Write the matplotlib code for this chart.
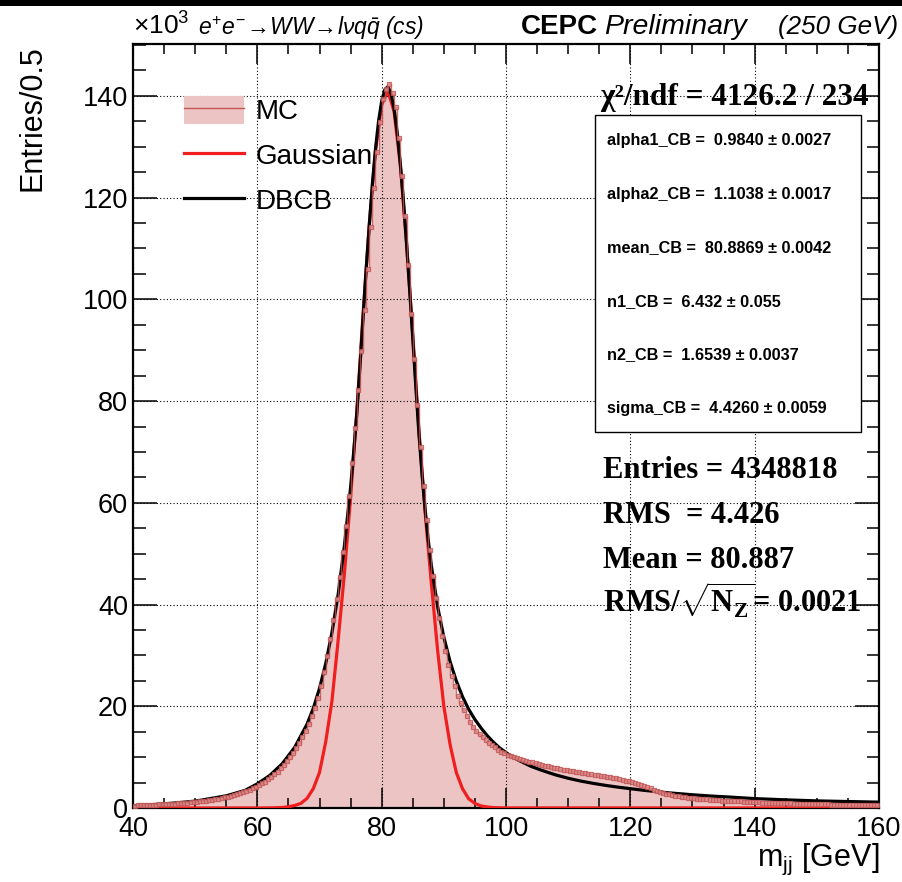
import numpy as np
import matplotlib.pyplot as plt
from matplotlib.patches import Rectangle, Patch
from matplotlib.lines import Line2D

plt.rcParams['font.family'] = ['Liberation Sans', 'DejaVu Sans']
plt.rcParams['mathtext.fontset'] = 'custom'
plt.rcParams['mathtext.rm'] = 'Liberation Sans'
plt.rcParams['mathtext.it'] = 'Liberation Sans:italic'
plt.rcParams['mathtext.bf'] = 'Liberation Serif:bold'

# ---- data (x10^3 entries per 0.5 GeV) ----
bin_lo, bin_hi, bin_w = 40.0, 160.0, 0.5
mc_counts = [
    0.45, 0.5, 0.5, 0.55, 0.55, 0.6, 0.6, 0.65, 0.7, 0.7,            # 40-45
    0.75, 0.8, 0.8, 0.85, 0.9, 0.95, 1.0, 1.05, 1.1, 1.15,           # 45-50
    1.2, 1.3, 1.35, 1.4, 1.5, 1.6, 1.7, 1.8, 1.95, 2.1,              # 50-55
    2.2, 2.35, 2.5, 2.7, 2.9, 3.1, 3.35, 3.6, 3.9, 4.2,              # 55-60
    4.5, 4.85, 5.2, 5.65, 6.1, 6.6, 7.15, 7.8, 8.5, 9.2,             # 60-65
    10.0, 10.9, 11.8, 12.8, 14.0, 15.2, 16.5, 18.0, 19.7, 21.6,      # 65-70
    24.0, 26.8, 29.8, 33.2, 37.0, 41.0, 45.5, 50.3, 55.5, 61.3,      # 70-75
    67.8, 74.7, 82.2, 89.9, 97.9, 105.9, 114.2, 121.8, 129.0, 134.9, # 75-80
    139.4, 141.4, 142.3, 140.6, 137.8, 131.8, 124.2, 116.3, 106.8, 97.2,  # 80-85
    88.3, 79.3, 71.0, 63.4, 56.6, 50.7, 45.6, 41.2, 37.3, 33.8,      # 85-90
    30.8, 28.2, 25.9, 23.9, 22.1, 20.6, 19.2, 18.0, 16.9, 16.0,      # 90-95
    15.2, 14.5, 13.9, 13.3, 12.8, 12.3, 11.9, 11.5, 11.1, 10.8,      # 95-100
    10.5, 10.25, 10.0, 9.8, 9.6, 9.4, 9.25, 9.1, 8.95, 8.8,          # 100-105
    8.65, 8.5, 8.35, 8.2, 8.05, 7.9, 7.8, 7.7, 7.55, 7.45,           # 105-110
    7.35, 7.25, 7.15, 7.05, 6.95, 6.85, 6.75, 6.65, 6.55, 6.45,      # 110-115
    6.35, 6.25, 6.15, 6.05, 5.95, 5.85, 5.7, 5.55, 5.4, 5.25,        # 115-120
    5.1, 4.9, 4.7, 4.5, 4.3, 4.05, 3.85, 3.6, 3.4, 3.2,              # 120-125
    3.0, 2.85, 2.7, 2.55, 2.45, 2.35, 2.25, 2.15, 2.05, 1.95,        # 125-130
    1.9, 1.85, 1.8, 1.75, 1.7, 1.65, 1.6, 1.55, 1.5, 1.45,           # 130-135
    1.42, 1.4, 1.37, 1.34, 1.31, 1.28, 1.25, 1.22, 1.19, 1.16,       # 135-140
    1.13, 1.1, 1.08, 1.06, 1.04, 1.01, 0.99, 0.97, 0.95, 0.93,       # 140-145
    0.91, 0.89, 0.87, 0.85, 0.83, 0.81, 0.8, 0.78, 0.76, 0.75,       # 145-150
    0.74, 0.72, 0.71, 0.7, 0.68, 0.67, 0.66, 0.65, 0.64, 0.62,       # 150-155
    0.61, 0.6, 0.59, 0.58, 0.57, 0.56, 0.55, 0.54, 0.53, 0.52,       # 155-160
]

dbcb_x = [40, 45, 50, 55, 58, 60, 62, 64, 66, 68, 69, 70, 71, 72, 73, 74, 75,
          75.5, 76, 76.5, 77, 77.5, 78, 78.5, 79, 79.5, 80, 80.5, 81, 81.5,
          82, 82.5, 83, 83.5, 84, 84.5, 85, 85.5, 86, 86.5, 87, 87.5, 88,
          89, 90, 91, 92, 93, 94, 95, 96, 97, 98, 99, 100, 101, 102, 104,
          106, 108, 110, 112, 114, 116, 118, 120, 122, 124, 126, 128, 130,
          133, 136, 140, 145, 150, 155, 160]
dbcb_y = [0.46, 0.8, 1.34, 2.4, 3.45, 4.75, 6.4, 8.7, 11.9, 16.5, 19.6, 23.5,
          28.4, 34.5, 42.0, 51.5, 63.0, 70.0, 77.5, 86.6, 96.3, 105.8, 114.4,
          122.6, 129.5, 135.0, 139.0, 141.2, 141.8, 140.5, 137.5, 132.8, 126.7,
          119.4, 111.0, 101.9, 92.4, 82.7, 73.5, 65.5, 58.6, 52.6, 47.6,
          39.6, 33.6, 28.8, 25.0, 21.9, 19.4, 17.4, 15.7, 14.2, 12.9, 11.8,
          10.9, 10.1, 9.4, 8.2, 7.3, 6.5, 5.85, 5.3, 4.85, 4.45, 4.1, 3.8,
          3.5, 3.25, 3.0, 2.8, 2.6, 2.35, 2.15, 1.85, 1.6, 1.4, 1.27, 1.15]

gaus_x = [40, 60, 62, 64, 65, 66, 67, 68, 69, 70, 71, 72, 73, 74, 75, 76, 77,
          78, 79, 80, 81, 82, 83, 84, 85, 86, 87, 88, 89, 90, 91, 92, 93, 94,
          95, 96, 97, 98, 100, 160]
gaus_y = [0.0, 0.0, 0.02, 0.1, 0.25, 0.5, 0.9, 1.9, 3.8, 7.0, 13.0, 21.0,
          33.0, 46.0, 61.0, 78.0, 96.9, 114.6, 129.0, 138.2, 141.0, 136.9,
          126.4, 111.2, 93.1, 74.2, 58.0, 44.0, 31.0, 20.0, 12.5, 7.0, 3.8,
          1.8, 0.9, 0.4, 0.2, 0.08, 0.01, 0.0]

fit_pars = ["alpha1_CB =  0.9840 \u00b1 0.0027",
            "alpha2_CB =  1.1038 \u00b1 0.0017",
            "mean_CB =  80.8869 \u00b1 0.0042",
            "n1_CB =  6.432 \u00b1 0.055",
            "n2_CB =  1.6539 \u00b1 0.0037",
            "sigma_CB =  4.4260 \u00b1 0.0059"]
stats_lines = ["Entries = 4348818",
               "RMS  = 4.426",
               "Mean = 80.887",
               r"RMS/$\sqrt{\mathbf{N}_{\mathbf{Z}}}$= 0.0021"]

fill_c = '#ecc4c4'
edge_c = '#c25454'

W, H = 903, 882
fig = plt.figure(figsize=(W / 100, H / 100), dpi=100)


def fx(px):
    return px / W


def fy(py):
    return 1 - py / H


ax = fig.add_axes([fx(133), fy(808), (879 - 133) / W, (808 - 44) / H])

edges = np.arange(bin_lo, bin_hi + bin_w / 2, bin_w)
centers = edges[:-1] + bin_w / 2
counts = np.array(mc_counts)

ax.stairs(counts, edges, fill=True, color=fill_c, zorder=1)
ax.plot(gaus_x, gaus_y, color='#f01e1e', lw=2.3, zorder=3)
ax.plot(dbcb_x, dbcb_y, color='black', lw=2.3, zorder=4)
ax.stairs(counts, edges, color=edge_c, lw=1.0, alpha=0.8, zorder=5)
ax.plot(centers, counts, ls='none', marker='s', ms=3.4, mfc='#e09090',
        mec=edge_c, mew=0.9, alpha=0.8, zorder=6)

ax.set_xlim(bin_lo, bin_hi)
ax.set_ylim(0, 150.2)
ax.set_xticks(np.arange(40, 161, 20))
ax.set_xticks(np.arange(40, 161, 5), minor=True)
ax.set_yticks(np.arange(0, 141, 20))
ax.set_yticks(np.arange(0, 151, 5), minor=True)
ax.grid(True, which='major', color='black', ls=(0, (1, 2)), lw=0.8, zorder=2)
ax.set_axisbelow(False)
ax.tick_params(axis='both', which='both', direction='in', top=True, right=True,
               width=1.1, labelsize=19.5)
ax.tick_params(axis='x', which='major', length=14.5, pad=6)
ax.tick_params(axis='x', which='minor', length=7.2)
ax.tick_params(axis='y', which='major', length=17, pad=3.5)
ax.tick_params(axis='y', which='minor', length=9)
for s in ax.spines.values():
    s.set_linewidth(1.6)

# legend
mc_handle = (Patch(facecolor=fill_c, edgecolor='none'),
             Line2D([], [], color=edge_c, lw=1.0))
g_handle = Line2D([], [], color='#f01e1e', lw=2.3)
d_handle = Line2D([], [], color='black', lw=2.3)
ax.legend([mc_handle, g_handle, d_handle], ['MC', 'Gaussian', 'DBCB'],
          loc='upper left', bbox_to_anchor=(fx(184), fy(96)),
          bbox_transform=fig.transFigure, frameon=False, fontsize=20,
          borderpad=0, borderaxespad=0, handlelength=2.15, handleheight=1.15,
          handletextpad=0.42, labelspacing=0.57)

# top labels
fig.text(fx(133), fy(35), "\u00d710$^{3}$", fontsize=19, va='baseline')
fig.text(fx(198), fy(35),
         r"$e^{+}e^{-}\!\rightarrow\!WW\!\rightarrow\!l\nu q\bar{q}$ (cs)",
         fontsize=16.5, style='italic', va='baseline')
fig.text(fx(521), fy(34), "CEPC", fontsize=20, weight='bold', va='baseline')
fig.text(fx(604), fy(34), "Preliminary", fontsize=20.5, style='italic',
         va='baseline')
fig.text(fx(778), fy(34), "(250 GeV)", fontsize=18.7, style='italic',
         va='baseline')

# axis titles
fig.text(fx(33), fy(45), "Entries/0.5", rotation=90, fontsize=22,
         ha='center', va='top')
fig.text(fx(879), fy(866), r"m$_{\mathrm{jj}}$ [GeV]", fontsize=22,
         ha='right', va='baseline')

# fit result box
serif_b = dict(family=['Liberation Serif', 'DejaVu Serif'], weight='bold')
fig.text(fx(600), fy(105), "\u03c7\u00b2/ndf = 4126.2 / 234", fontsize=22.5,
         va='baseline', **serif_b)
fig.add_artist(Rectangle((fx(595), fy(432)), (861 - 595) / W, (432 - 115) / H,
                         transform=fig.transFigure, facecolor='white',
                         edgecolor='black', lw=1.0, zorder=3))
for i, t in enumerate(fit_pars):
    fig.text(fx(607), fy(145 + i * 53.6), t, fontsize=11.7, weight='bold',
             va='baseline', zorder=4)

for i, t in enumerate(stats_lines):
    fig.text(fx(603), fy(478 + i * 45), t, fontsize=22, va='baseline', **serif_b)

# black strip along top edge
fig.add_artist(Rectangle((0, fy(6)), 1, 6 / H, transform=fig.transFigure,
                         facecolor='black', edgecolor='none', zorder=5))

fig.savefig("out.png", dpi=100)
